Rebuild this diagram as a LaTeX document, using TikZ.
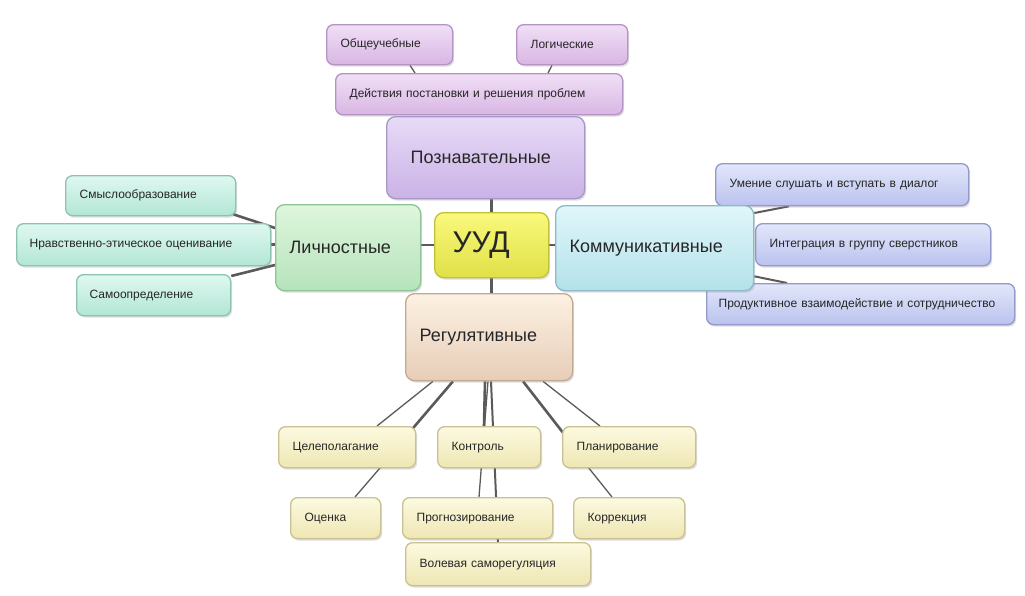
\documentclass[tikz,border=0pt]{standalone}
\usepackage{fontspec}
\setmainfont{Liberation Sans}
\usetikzlibrary{calc,shadows,backgrounds}
\definecolor{lnc}{HTML}{5A5A5A}
\definecolor{pT}{HTML}{F1DFF6}\definecolor{pB}{HTML}{D8B6E3}\definecolor{pD}{HTML}{B494C4}
\definecolor{qT}{HTML}{E7DBF6}\definecolor{qB}{HTML}{CAB2E6}\definecolor{qD}{HTML}{A697C8}
\definecolor{gT}{HTML}{DFF8F1}\definecolor{gB}{HTML}{B2E6D5}\definecolor{gD}{HTML}{8DC3AF}
\definecolor{lT}{HTML}{DEF6DD}\definecolor{lB}{HTML}{B6E3BA}\definecolor{lD}{HTML}{8FC496}
\definecolor{uT}{HTML}{F9F97C}\definecolor{uB}{HTML}{E0E048}\definecolor{uD}{HTML}{C2C23A}
\definecolor{kT}{HTML}{DFF7FA}\definecolor{kB}{HTML}{B4E1EA}\definecolor{kD}{HTML}{8FB9C6}
\definecolor{bT}{HTML}{E2E7FA}\definecolor{bB}{HTML}{BBC2EE}\definecolor{bD}{HTML}{9399C9}
\definecolor{rT}{HTML}{FCF1E2}\definecolor{rB}{HTML}{E7CDB8}\definecolor{rD}{HTML}{C2AA92}
\definecolor{yT}{HTML}{FCFAE0}\definecolor{yB}{HTML}{EEE6B3}\definecolor{yD}{HTML}{C9C194}
\tikzset{
  bx/.style={rounded corners=7pt, line width=1.3pt, inner xsep=14pt, inner ysep=0pt,
    align=left, anchor=north west, font=\fontsize{12}{14}\selectfont, text=black!85,
    drop shadow={opacity=0.25, shadow xshift=1.5pt, shadow yshift=-2pt}},
  big/.style={bx, rounded corners=9pt, font=\fontsize{18}{20}\selectfont},
  pchild/.style={bx, top color=pT, bottom color=pB, draw=pD},
  pozs/.style={big, top color=qT, bottom color=qB, draw=qD},
  gchild/.style={bx, top color=gT, bottom color=gB, draw=gD},
  lichs/.style={big, top color=lT, bottom color=lB, draw=lD},
  uuds/.style={big, top color=uT, bottom color=uB, draw=uD, inner xsep=18pt, font=\fontsize{30}{32}\selectfont},
  koms/.style={big, top color=kT, bottom color=kB, draw=kD},
  bchild/.style={bx, top color=bT, bottom color=bB, draw=bD},
  regs/.style={big, top color=rT, bottom color=rB, draw=rD},
  ychild/.style={bx, top color=yT, bottom color=yB, draw=yD},
  thk/.style={draw=lnc, line width=2.6pt},
  mid/.style={draw=lnc, line width=2pt},
  thn/.style={draw=lnc, line width=1.3pt}
}
\begin{document}
\begin{tikzpicture}[x=1pt,y=-1pt]
\useasboundingbox (0,0) rectangle (1025,595);
% children
\node[pchild, minimum width=126pt, minimum height=40pt, text width=98pt] (obsh) at (326,24) {\mbox{Общеучебные}};
\node[pchild, minimum width=111pt, minimum height=40pt, text width=83pt] (logi) at (516,24) {\mbox{Логические}};
\node[pchild, minimum width=287pt, minimum height=41pt, text width=259pt] (deys) at (335,73) {\mbox{Действия постановки и решения проблем}};
\node[gchild, minimum width=170pt, minimum height=40pt, text width=142pt] (smysl) at (65,175) {\mbox{Смыслообразование}};
\node[gchild, minimum width=254pt, minimum height=42pt, text width=228pt, inner xsep=13pt] (nrav) at (16,223) {\mbox{Нравственно-этическое оценивание}};
\node[gchild, minimum width=154pt, minimum height=41pt, text width=128pt, inner xsep=13pt] (samo) at (76,274) {\mbox{Самоопределение}};
\node[bchild, minimum width=253pt, minimum height=42pt, text width=225pt] (umen) at (715,163) {\mbox{Умение слушать и вступать в диалог}};
\node[bchild, minimum width=235pt, minimum height=42pt, text width=207pt] (integ) at (755,223) {\mbox{Интеграция в группу сверстников}};
\node[bchild, minimum width=308pt, minimum height=41pt, text width=284pt, inner xsep=12pt] (prod) at (706,283) {\mbox{Продуктивное взаимодействие и сотрудничество}};
\node[ychild, minimum width=137pt, minimum height=41pt, text width=109pt] (cel) at (278,426) {\mbox{Целеполагание}};
\node[ychild, minimum width=103pt, minimum height=41pt, text width=75pt] (kon) at (437,426) {\mbox{Контроль}};
\node[ychild, minimum width=133pt, minimum height=41pt, text width=105pt] (plan) at (562,426) {\mbox{Планирование}};
\node[ychild, minimum width=90pt, minimum height=41pt, text width=62pt] (oc) at (290,497) {\mbox{Оценка}};
\node[ychild, minimum width=150pt, minimum height=41pt, text width=122pt] (prog) at (402,497) {\mbox{Прогнозирование}};
\node[ychild, minimum width=111pt, minimum height=41pt, text width=83pt] (korr) at (573,497) {\mbox{Коррекция}};
\node[ychild, minimum width=185pt, minimum height=43pt, text width=157pt] (vol) at (405,542) {\mbox{Волевая саморегуляция}};
% main nodes
\node[pozs, minimum width=198pt, minimum height=82pt, text width=150pt, inner xsep=24pt] (poz) at (386,116) {\mbox{Познавательные}};
\node[lichs, minimum width=145pt, minimum height=86pt, text width=117pt] (lich) at (275,204) {\mbox{Личностные}};
\node[koms, minimum width=198pt, minimum height=85pt, text width=170pt] (kom) at (555,205) {\mbox{Коммуникативные}};
\node[regs, minimum width=167pt, minimum height=87pt, text width=139pt] (reg) at (405,293) {\mbox{Регулятивные}};
\node[uuds, minimum width=114pt, minimum height=65pt, text width=78pt] (uud) at (434,212) {\mbox{УУД}};
% connectors
\begin{pgfonlayer}{background}
\fill[white] (0,0) rectangle (1025,595);
\draw[thk] (uud.north) -- (uud.north |- poz.south);
\draw[thk] (uud.south) -- (uud.south |- reg.north);
\draw[thk] (uud.west) -- (uud.west -| lich.east);
\draw[thk] (uud.east) -- (uud.east -| kom.west);
\draw[thn] ($(obsh.south west)+(84,0)$) -- ($(deys.north west)+(80,0)$);
\draw[thn] ($(logi.south west)+(36,0)$) -- ($(deys.north west)+(213,0)$);
\draw[thk] ($(smysl.south east)+(-3,-2)$) -- ($(lich.north west)+(0,24)$);
\draw[thk] (nrav.east) -- (nrav.east -| lich.west);
\draw[thk] ($(samo.north east)+(0,2)$) -- ($(lich.north west)+(0,61)$);
\draw[mid] ($(kom.north east)+(0,8)$) -- ($(umen.south west)+(74,0)$);
\draw[mid] ($(kom.south east)+(0,-15)$) -- ($(prod.north west)+(81,0)$);
% Регулятивные
\draw[thn] ($(reg.south west)+(28,0)$) -- ($(cel.north west)+(99,0)$);
\draw[thk] ($(reg.south west)+(48,0)$) -- ($(cel.north west)+(130,8)$);
\draw[thn] ($(cel.south west)+(106,-5)$) -- ($(oc.north west)+(65,0)$);
\draw[thk] ($(reg.south west)+(80,0)$) -- ($(kon.north west)+(47,0)$);
\draw[thn] ($(reg.south west)+(83,0)$) -- ($(prog.north west)+(77,0)$);
\draw[mid] ($(reg.south west)+(86,0)$) -- ($(vol.north west)+(93,0)$);
\draw[thn] ($(reg.south west)+(138,0)$) -- ($(plan.north west)+(38,0)$);
\draw[thk] ($(reg.south west)+(118,0)$) -- ($(plan.north west)+(2,8)$);
\draw[thn] ($(plan.south west)+(23,-5)$) -- ($(korr.north west)+(39,0)$);
\end{pgfonlayer}
\end{tikzpicture}
\end{document}
